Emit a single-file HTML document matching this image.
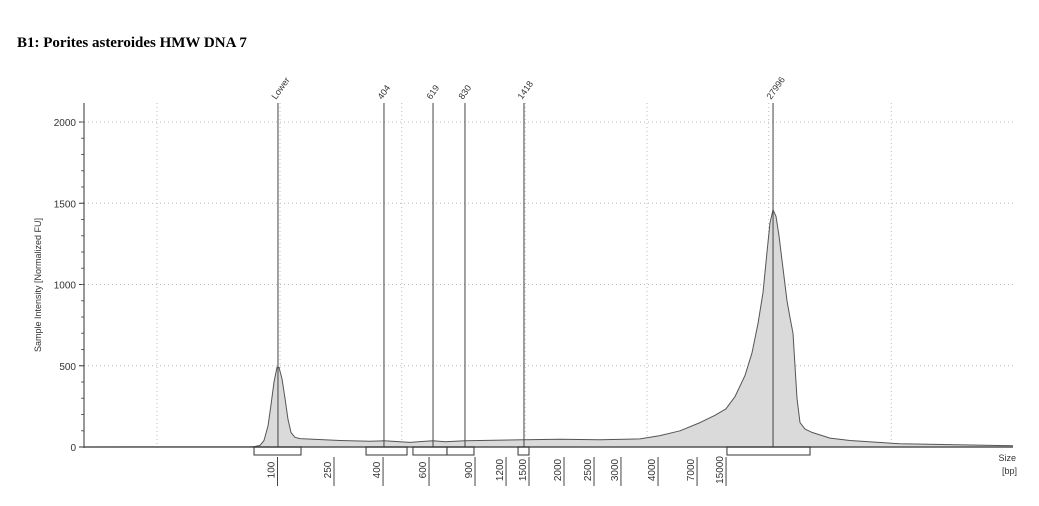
<!DOCTYPE html>
<html><head><meta charset="utf-8"><style>
body{margin:0;background:#fff;width:1039px;height:506px;overflow:hidden;font-family:"Liberation Sans",sans-serif}
</style></head><body>
<div style="position:absolute;left:17px;top:35px;font:bold 15px 'Liberation Serif',serif;color:#000">B1: Porites asteroides HMW DNA 7</div>
<svg id="c" width="1039" height="506" style="position:absolute;left:0;top:0"></svg>
<script>
const traceX=[0,17.87,18.41,18.95,19.38,19.81,20.13,20.45,20.78,20.99,21.31,21.64,21.96,22.28,22.71,23.25,27.56,30.79,32.29,34.02,35.09,36.17,37.57,38.86,41.01,42.63,47.36,51.24,55.54,59.85,62.0,64.16,66.31,67.92,69.11,70.08,71.15,71.91,72.55,73.09,73.52,73.84,74.17,74.49,74.81,75.24,75.67,75.99,76.32,76.53,76.75,77.07,77.61,78.36,80.3,82.45,87.84,100];
const traceY=[0,2,3,10,40,130,260,400,490,490,420,300,170,90,60,52,40,35,38,32,28,33,38,32,38,40,45,48,45,50,70,100,150,195,235,310,440,580,760,950,1200,1380,1460,1420,1300,1100,900,800,700,500,300,150,110,90,55,40,20,8];
const markerLabels=["Lower","404","619","830","1418","27996"];
const markerX=[20.88,32.29,37.57,41.01,47.36,74.17];
const sizeLabels=["100","250","400","600","900","1200","1500","2000","2500","3000","4000","7000","15000"];
const sizeX=[20.83,26.91,32.19,37.14,42.09,45.43,47.90,51.67,54.90,57.80,61.79,65.99,69.11];
const bracketStart=[18.30,30.36,35.41,39.07,46.72,69.21];
const bracketEnd=[23.36,34.77,39.07,41.98,47.90,78.15];
const gridX=[7.86,21.1,34.2,47.5,60.6,73.7,86.9];
const yTicks=[0,500,1000,1500,2000];
const X=u=>84+u*(1013-84)/100;
const Y=v=>447-v*(447-122)/2000;
const svg=document.getElementById('c');
const NS='http://www.w3.org/2000/svg';
function mk(t,a,p){const e=document.createElementNS(NS,t);for(const k in a)e.setAttribute(k,a[k]);(p||svg).appendChild(e);return e;}
gridX.forEach(g=>{const e=mk('line',{x1:X(g),x2:X(g),y1:103,y2:447,stroke:'#bbb','stroke-dasharray':'1,3'});

});
yTicks.forEach(v=>{if(v>0){const e=mk('line',{x1:84,x2:1013,y1:Y(v),y2:Y(v),stroke:'#bbb','stroke-dasharray':'1,3'});

}
const t=mk('text',{x:76,y:Y(v)+4,'text-anchor':'end','font-size':'10','fill':'#333'});t.textContent=v;


mk('line',{x1:79,x2:84,y1:Y(v),y2:Y(v),stroke:'#333'});});
for(let v=100;v<2100;v+=100){mk('line',{x1:81,x2:84,y1:Y(v),y2:Y(v),stroke:'#666'});}
let d='M'+X(traceX[0])+','+Y(0);
traceX.forEach((x,i)=>{d+=' L'+X(x).toFixed(1)+','+Y(traceY[i]).toFixed(1);});
const area=mk('path',{d:d+' L'+X(100)+','+Y(0)+' Z',fill:'#dadada',stroke:'none'});


const line=mk('path',{d:d,fill:'none',stroke:'#555','stroke-width':'1','stroke-linejoin':'round'});


mk('line',{x1:84,x2:84,y1:103,y2:448,stroke:'#333'});
mk('line',{x1:84,x2:1013,y1:447,y2:447,stroke:'#555','stroke-width':'1.5'});
markerX.forEach((m,i)=>{const l=mk('line',{x1:X(m),x2:X(m),y1:103,y2:447,stroke:'#444'});


const t=mk('text',{transform:`translate(${X(m)-2},100) rotate(-55)`,'font-size':'9','fill':'#333'});t.textContent=markerLabels[i];

});
bracketStart.forEach((s,i)=>{const r=mk('rect',{x:X(s),y:447,width:X(bracketEnd[i])-X(s),height:8,fill:'none',stroke:'#333'});

});
sizeX.forEach((s,i)=>{mk('line',{x1:X(s),x2:X(s),y1:457,y2:486,stroke:'#444'});
const t=mk('text',{transform:`translate(${X(s)-3},${470}) rotate(-90)`,'text-anchor':'middle','font-size':'10','fill':'#333'});t.textContent=sizeLabels[i];

});
const s1=mk('text',{x:1016,y:461,'text-anchor':'end','font-size':'9','fill':'#333'});s1.textContent='Size';


const s2=mk('text',{x:1017,y:474,'text-anchor':'end','font-size':'9','fill':'#333'});s2.textContent='[bp]';


const yl=mk('text',{transform:'translate(41,285) rotate(-90)','text-anchor':'middle','font-size':'9','fill':'#333'});yl.textContent='Sample Intensity [Normalized FU]';


</script>
</body></html>
